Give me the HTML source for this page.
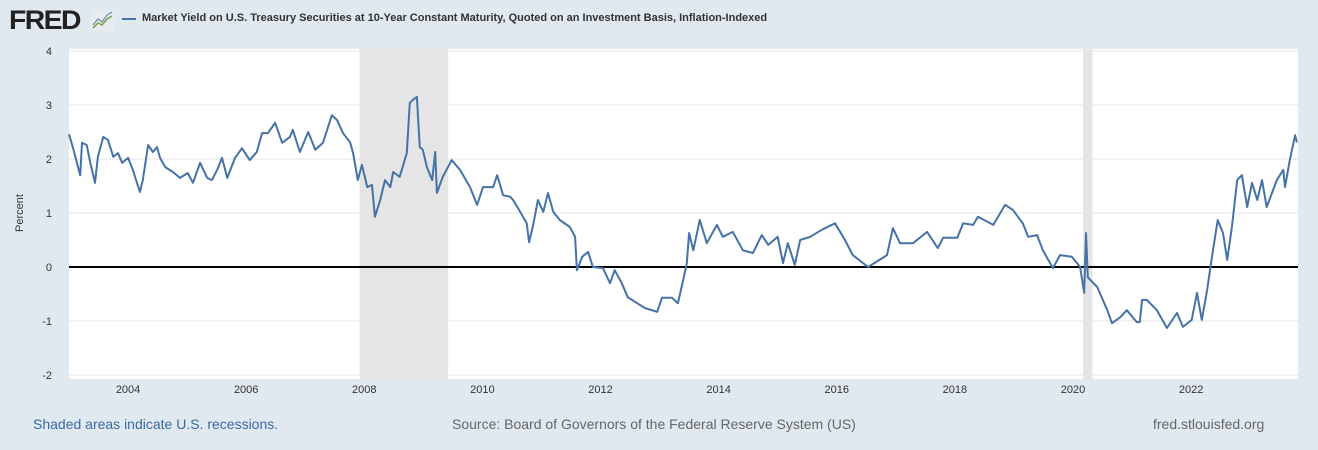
<!DOCTYPE html>
<html><head><meta charset="utf-8"><style>
body{margin:0;background:#e1e9f0;font-family:"Liberation Sans",Arial,sans-serif;}
#wrap{position:relative;width:1318px;height:450px;overflow:hidden;}
.ft{position:absolute;top:416px;font-size:14px;}
</style></head><body>
<div id="wrap">
<div style="position:absolute;left:9px;top:5px;font-size:27px;font-weight:900;color:#222;letter-spacing:-1.5px;transform:scaleX(1.05);transform-origin:left">FRED</div>
<svg style="position:absolute;left:91px;top:10px" width="23" height="21"><rect x="0" y="0" width="23" height="21" fill="#e8ecef"/><polyline points="2,18 7,13 11,15 16,9 21,6" fill="none" stroke="#7aa04a" stroke-width="1.5"/><polyline points="2,15 7,9 11,12 16,5 21,2" fill="none" stroke="#6d8fb8" stroke-width="1.2"/></svg>
<div style="position:absolute;left:122px;top:18px;width:14px;height:2px;background:#4572a7"></div>
<div style="position:absolute;left:142px;top:12px;font-size:11px;font-weight:bold;color:#333">Market Yield on U.S. Treasury Securities at 10-Year Constant Maturity, Quoted on an Investment Basis, Inflation-Indexed</div>
<svg id="chart" width="1318" height="450" style="position:absolute;left:0;top:0"></svg>
<div class="ft" style="left:33px;color:#3a6aa5">Shaded areas indicate U.S. recessions.</div>
<div class="ft" style="left:452px;color:#666">Source: Board of Governors of the Federal Reserve System (US)</div>
<div class="ft" style="left:1153px;color:#666">fred.stlouisfed.org</div>
</div>
<script>
const years=[2003.00,2003.07,2003.19,2003.22,2003.30,2003.36,2003.44,2003.49,2003.58,2003.66,2003.75,2003.83,2003.90,2004.00,2004.08,2004.20,2004.25,2004.34,2004.42,2004.49,2004.54,2004.63,2004.76,2004.88,2005.01,2005.10,2005.22,2005.34,2005.42,2005.51,2005.59,2005.68,2005.81,2005.93,2006.06,2006.18,2006.27,2006.37,2006.49,2006.61,2006.74,2006.79,2006.91,2007.05,2007.17,2007.30,2007.45,2007.54,2007.64,2007.76,2007.81,2007.89,2007.96,2008.05,2008.13,2008.18,2008.27,2008.35,2008.44,2008.49,2008.60,2008.72,2008.77,2008.82,2008.89,2008.91,2008.94,2008.99,2009.06,2009.15,2009.20,2009.23,2009.33,2009.48,2009.62,2009.79,2009.91,2010.01,2010.18,2010.25,2010.35,2010.47,2010.52,2010.64,2010.75,2010.79,2010.86,2010.94,2011.03,2011.11,2011.20,2011.31,2011.48,2011.57,2011.60,2011.69,2011.79,2011.87,2012.04,2012.16,2012.24,2012.36,2012.46,2012.62,2012.75,2012.96,2013.04,2013.21,2013.31,2013.40,2013.46,2013.50,2013.57,2013.68,2013.80,2013.97,2014.07,2014.24,2014.41,2014.58,2014.73,2014.84,2015.00,2015.09,2015.17,2015.29,2015.38,2015.55,2015.75,2015.97,2016.14,2016.27,2016.53,2016.85,2016.95,2017.07,2017.29,2017.53,2017.71,2017.80,2018.04,2018.14,2018.31,2018.39,2018.65,2018.85,2018.98,2019.15,2019.24,2019.39,2019.49,2019.66,2019.78,2019.98,2020.12,2020.19,2020.22,2020.25,2020.41,2020.58,2020.66,2020.80,2020.91,2021.08,2021.13,2021.17,2021.25,2021.42,2021.59,2021.76,2021.86,2022.01,2022.10,2022.18,2022.27,2022.32,2022.37,2022.45,2022.54,2022.61,2022.69,2022.78,2022.86,2022.95,2023.03,2023.12,2023.20,2023.28,2023.45,2023.56,2023.59,2023.67,2023.76,2023.79];
const values=[2.46,2.20,1.70,2.30,2.26,1.93,1.56,2.04,2.41,2.35,2.04,2.11,1.93,2.02,1.80,1.39,1.61,2.26,2.13,2.22,2.02,1.85,1.76,1.65,1.74,1.56,1.93,1.65,1.61,1.80,2.02,1.65,2.02,2.20,1.98,2.13,2.48,2.48,2.67,2.30,2.41,2.54,2.13,2.50,2.17,2.30,2.81,2.72,2.48,2.31,2.11,1.61,1.89,1.48,1.52,0.93,1.24,1.61,1.48,1.76,1.67,2.11,3.04,3.09,3.15,2.78,2.22,2.17,1.85,1.61,2.13,1.37,1.67,1.98,1.80,1.48,1.15,1.48,1.48,1.70,1.33,1.30,1.24,1.02,0.81,0.46,0.78,1.24,1.02,1.37,1.02,0.87,0.74,0.56,-0.06,0.19,0.28,0.00,-0.02,-0.30,-0.06,-0.30,-0.56,-0.67,-0.76,-0.83,-0.57,-0.57,-0.67,-0.24,0.07,0.63,0.31,0.87,0.44,0.78,0.56,0.65,0.31,0.26,0.59,0.41,0.56,0.07,0.44,0.04,0.50,0.56,0.69,0.81,0.50,0.22,0.00,0.22,0.72,0.44,0.44,0.65,0.35,0.54,0.54,0.81,0.78,0.93,0.78,1.15,1.06,0.81,0.56,0.59,0.31,-0.02,0.22,0.19,0.00,-0.48,0.63,-0.19,-0.37,-0.80,-1.04,-0.93,-0.80,-1.02,-1.02,-0.61,-0.61,-0.80,-1.13,-0.85,-1.11,-0.98,-0.48,-0.98,-0.43,-0.06,0.31,0.87,0.63,0.13,0.74,1.61,1.70,1.11,1.56,1.24,1.61,1.11,1.61,1.80,1.48,1.98,2.44,2.31];
const yTicks=[4,3,2,1,0,-1,-2];
const xTicks=[2004,2006,2008,2010,2012,2014,2016,2018,2020,2022];
const recStart=[2007.92,2020.17];
const recEnd=[2009.42,2020.33];
const NS="http://www.w3.org/2000/svg";
const svg=document.getElementById('chart');
const X0=69,X1=1298;
function xs(y){return 69+(y-2003)*59.06;}
function ys(v){return 267-v*54;}
function mk(t,a){const e=document.createElementNS(NS,t);for(const k in a)e.setAttribute(k,a[k]);svg.appendChild(e);return e;}
let e=mk('rect',{x:X0,y:49,width:X1-X0,height:330,fill:'#fff'});


for(let i=0;i<recStart.length;i++){
 e=mk('rect',{x:xs(recStart[i]),y:49,width:xs(recEnd[i])-xs(recStart[i]),height:330,fill:'#e5e5e5'});
 
 
}
yTicks.forEach(v=>{
 if(v!==0){e=mk('line',{x1:X0,x2:X1,y1:ys(v),y2:ys(v),stroke:'#e6e6e6','stroke-width':1});
 
 }
 e=mk('text',{x:52,y:ys(v)+4,'text-anchor':'end','font-size':11,fill:'#333','font-family':'Liberation Sans, sans-serif'});
 e.textContent=v;
 
 
});
xTicks.forEach(v=>{
 e=mk('text',{x:xs(v),y:393,'text-anchor':'middle','font-size':11,fill:'#333','font-family':'Liberation Sans, sans-serif'});
 e.textContent=v;
 
 
});
e=mk('text',{x:0,y:0,transform:'translate(23,213) rotate(-90)','text-anchor':'middle','font-size':11,fill:'#333','font-family':'Liberation Sans, sans-serif'});
e.textContent='Percent';


e=mk('line',{x1:X0,x2:X1,y1:ys(0),y2:ys(0),stroke:'#000','stroke-width':2});


const pts=years.map((y,i)=>xs(y).toFixed(1)+','+ys(values[i]).toFixed(1)).join(' ');
e=mk('polyline',{points:pts,fill:'none',stroke:'#4572a7','stroke-width':2,'stroke-linejoin':'round'});


</script>
</body></html>
